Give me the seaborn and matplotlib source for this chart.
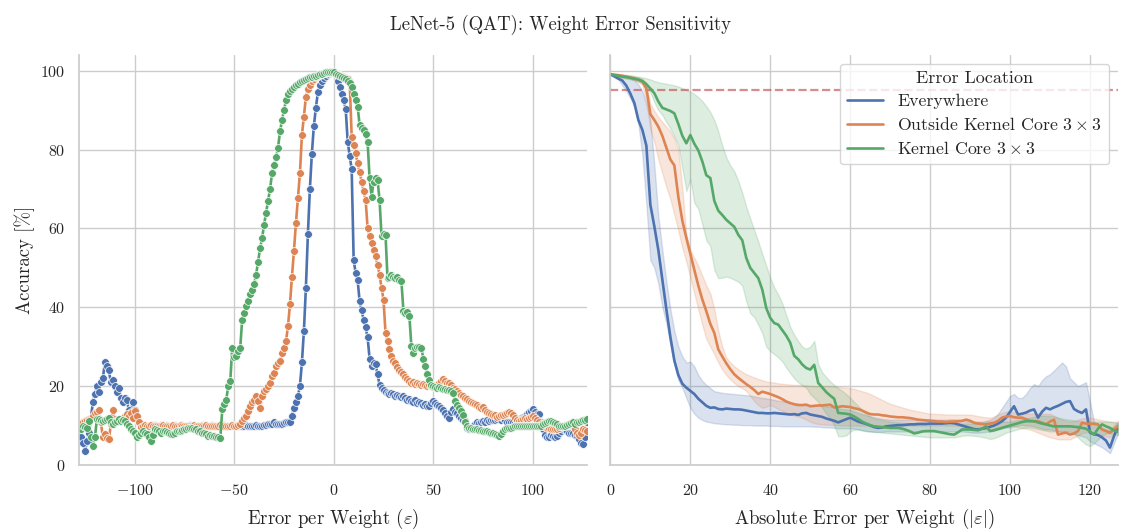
import matplotlib
matplotlib.use("Agg")
import matplotlib.pyplot as plt
import pandas as pd
import seaborn as sns

# ---------------- data ----------------
SERIES = ["Everywhere", r"Outside Kernel Core $3\times3$", r"Kernel Core $3\times3$"]

# left panel: signed error per weight
eps_signed = list(range(-128, 128))

acc_everywhere = [
    9, 7, 5.5, 3.5, 6, 8, 12, 16, 18, 20,
    18.5, 21, 22, 26, 25, 24, 21, 21.5, 20, 18.5,
    19.5, 17, 16, 17, 16.5, 14, 13.5, 16, 14, 12,
    11, 10.5, 10, 9.5, 8, 9.5, 10, 10.2, 10.1, 10,
    10, 10.1, 10, 10, 10.1, 10, 10, 10, 10.1, 10,
    10, 10, 10.1, 10, 10, 10, 10.1, 10, 10, 10,
    10, 10, 10.1, 10, 10, 10, 10, 10.1, 10, 10,
    10, 10, 10, 10.1, 10, 10, 10, 10, 10.1, 10,
    10, 10, 10, 10, 10.1, 10, 10, 10, 10, 10.1,
    10, 10, 10, 10.1, 10.2, 10.3, 10.4, 10.5, 10.8, 10.5,
    10.3, 10.5, 10.4, 10.6, 10.8, 10.8, 11, 12.5, 14.5, 16,
    17.5, 20, 26, 34, 45, 58.5, 70, 79, 86, 90.5,
    94.5, 96.5, 97.5, 98.2, 98.8, 99.2, 99.4, 99.6, 99.6, 99.2,
    97.5, 96, 94, 92.5, 90.3, 82, 78.5, 75, 52, 48.7,
    46.8, 41.5, 39.2, 36.9, 34.9, 32.4, 27, 25.1, 25.9, 25.5,
    23, 20.3, 19.6, 19, 18.6, 18.3, 18, 18.3, 18, 17.6,
    17.8, 17.5, 17.3, 17.5, 17, 16.5, 16.8, 16.2, 16, 16.4,
    15.8, 16, 15.8, 15.2, 15.5, 15, 14.9, 15.8, 16.2, 15.8,
    15.2, 14.9, 14.5, 14, 13.2, 12.5, 12, 13.5, 14.1, 13.5,
    13.2, 12.5, 12, 11.5, 11.1, 9.5, 9.2, 9.5, 10, 10.3,
    10.8, 10.6, 10.9, 11.1, 11, 11.3, 11.2, 11.4, 11.5, 11.3,
    11.6, 11.8, 11.5, 11.8, 11.5, 11, 10.8, 10.8, 11, 10.6,
    10.8, 11.2, 11.8, 12.2, 12.5, 12.9, 13.5, 13.8, 14.1, 13.5,
    13, 12.9, 11, 9, 7.5, 7, 7.2, 7.6, 7.4, 7.2,
    7.4, 8, 8.6, 9.1, 9, 8.6, 8.2, 8.2, 8, 7.6,
    7.4, 6.5, 5.5, 5.3, 7, 10.8,
]

acc_outside = [
    9.5, 9.5, 11, 11.2, 11.4, 11.6, 12, 12.5, 13.3, 13.5,
    14, 10.8, 7, 7.8, 6.8, 6.6, 10.3, 13.9, 11.6, 11.4,
    11.2, 11.6, 12, 12.5, 12.9, 12.4, 13.3, 12, 13.7, 12.5,
    10.8, 9.7, 10, 10.1, 10, 10, 10.1, 10, 10, 10,
    10, 10, 10.1, 10, 10, 10, 10, 10.1, 10, 10,
    10, 10.1, 10, 10, 10, 10, 10, 10, 10.1, 10,
    10, 10, 10, 10, 10.1, 10, 10, 10, 10, 10,
    10, 10.1, 10, 10, 10, 10, 10, 10.1, 10, 10,
    10.2, 10.5, 11.1, 11.8, 12.4, 13.7, 14.9, 16, 16.6, 17.5,
    16.2, 14.5, 17.5, 18.7, 19.2, 20, 20.8, 22.5, 23.4, 25.1,
    25.9, 26.3, 28.4, 29.7, 31.4, 35.2, 40.8, 47.8, 54.3, 61.4,
    67.7, 74, 83.7, 88.4, 93.4, 95.5, 96.4, 97.4, 98, 98.5,
    98.8, 99, 99.3, 99.4, 99.5, 99.6, 99.7, 99.7, 99.6, 99.5,
    99.3, 99, 98.8, 98.5, 98.2, 97.8, 97.2, 83.3, 81.2, 79.1,
    76.5, 74.4, 71.9, 69.4, 67.3, 60.1, 58, 56.3, 54.6, 52.9,
    50.8, 48.3, 45, 41.9, 33.5, 31.4, 29.5, 27.6, 26.5, 25.9,
    24.8, 24.2, 23.5, 23, 22.2, 21.7, 21.2, 20.8, 21, 20.6,
    20.8, 20.5, 20.2, 20.6, 20.4, 20, 20.3, 20, 19.8, 20.2,
    20.4, 20.8, 21.3, 21.7, 21.2, 20.8, 20.8, 20.2, 19.6, 19.2,
    18.7, 18.2, 17.8, 17.5, 17, 16.8, 16.3, 16, 15.7, 15.4,
    15.2, 14.8, 14.5, 14.6, 14, 13.5, 13.2, 13, 12.8, 12.6,
    12.2, 12.5, 12.8, 12.6, 12.9, 13.2, 13.4, 13.1, 12.6, 12,
    11.5, 11.2, 11.3, 11.6, 11.8, 11.6, 12, 12.2, 12.4, 12,
    11.5, 10.8, 10.3, 10, 9.8, 9.5, 9.4, 9.2, 9, 9.2,
    9.1, 9.4, 9.8, 9.9, 10.1, 10.2, 10.3, 10.3, 9.8, 9,
    8.2, 7.6, 8, 9.1, 8.8, 8.7,
]

acc_core = [
    9.1, 9.1, 9.9, 9.7, 9.5, 11.2, 7, 4.9, 7, 11.6,
    11.6, 11.4, 11.2, 11.4, 11.6, 11.8, 11, 10.3, 10.8, 11.2,
    11.6, 11.2, 11.4, 11.2, 10.5, 9.8, 9.1, 8.6, 8.2, 7,
    7.5, 8.2, 8.5, 8, 7.8, 7, 6.1, 7.5, 9.1, 8.8,
    8.5, 8.2, 8.5, 8.7, 8.4, 8.2, 7.9, 7.8, 8.1, 8.5,
    8.7, 8.5, 8.9, 9.2, 9.2, 9.4, 9.5, 9.3, 9.1, 9,
    8.7, 8.6, 8.2, 8, 7.8, 7.4, 7.6, 7.3, 7.4, 7.2,
    7.1, 6.9, 14.1, 15.4, 16.6, 20, 21.3, 29.7, 27.3, 27.6,
    28.9, 29.7, 36.9, 38.6, 40.3, 41.5, 43.4, 44.5, 45.9, 48.3,
    51.6, 55, 57.6, 61, 64, 67, 70, 74, 76, 78,
    80.5, 84.6, 87.5, 90, 92.5, 94, 94.8, 95.4, 95.9, 96.3,
    96.7, 97.1, 97.4, 97.7, 98, 98.1, 98.3, 98.5, 98.7, 98.8,
    98.9, 99.1, 99.3, 99.4, 99.6, 99.6, 99.7, 99.8, 99.8, 99.3,
    99, 98.8, 98.5, 98.1, 97.8, 97.4, 96.8, 95.9, 94, 92.6,
    90.9, 86.2, 85.4, 85, 83.9, 81.9, 72.7, 68.1, 71.9, 72.7,
    72.2, 67.3, 58, 58.6, 58.4, 47.4, 47.8, 48.2, 47.6, 47.4,
    47.7, 47, 46.6, 39, 38.6, 38.8, 37.7, 30.1, 28.4, 29.7,
    30, 29.8, 29.7, 27, 25.1, 23, 21.5, 20.4, 20, 19.8,
    19.6, 19.8, 19.4, 19.3, 19.2, 19, 18.9, 18.7, 18.2, 16.2,
    15.2, 14.5, 13.7, 12.8, 11, 9.9, 9.5, 9.3, 9.2, 9.1,
    9.1, 8.9, 8.8, 8.7, 8.7, 8.7, 8.4, 8.2, 8, 7.8,
    7.6, 7.4, 7.8, 8.5, 9, 9.4, 9.5, 9.5, 9.7, 9.8,
    9.9, 9.9, 9.9, 10, 9.8, 9.9, 10, 9.9, 9.8, 9.9,
    10, 9.9, 9.9, 10.3, 10.6, 10.9, 11.1, 11.2, 11, 10.6,
    10.3, 10, 9.9, 9.9, 10, 10.2, 10.4, 10.6, 10.8, 10.5,
    10.8, 11, 11.2, 11.3, 11.5, 11.6,
]

# right panel: absolute error per weight (central value and band limits)
eps_abs = list(range(0, 128))

mid_everywhere = [
    99.1, 98.6, 98, 97.5, 96.2, 94.2, 91.8, 87.5, 85, 81,
    66, 60.5, 54.5, 47, 39.5, 32.5, 26.5, 22.8, 20.6, 19.6,
    18.8, 18, 16.8, 15.9, 15, 14.5, 14.6, 14.2, 14.1, 14.3,
    14.2, 14.1, 14.1, 14, 13.8, 13.6, 13.4, 13.2, 13.2, 13.1,
    13.1, 13.2, 13.1, 13, 12.9, 12.8, 12.9, 12.7, 13.1, 13.2,
    12.8, 12.6, 12.4, 12.2, 11.8, 11.5, 11.2, 10.8, 11.2, 11.6,
    12, 11.5, 11, 10.7, 10.4, 10, 9.6, 9.4, 9.5, 9.8,
    9.9, 10, 10.1, 10.1, 10.2, 10.3, 10.3, 10.4, 10.4, 10.4,
    10.5, 10.5, 10.5, 10.5, 10.6, 10.7, 10.6, 10.3, 10, 9.7,
    9.4, 9.1, 9, 9.2, 9.4, 9.7, 10, 10.5, 11.1, 12,
    13.5, 14.9, 12.8, 13, 13.3, 13.8, 14.1, 12, 13.5, 14.5,
    14.1, 14.6, 15, 15.5, 16, 16.2, 14.2, 13.6, 13.2, 14.1,
    8.2, 7.8, 7.6, 7, 6.2, 4.4, 7.3, 9.8,
]
lo_everywhere = [
    99, 98.3, 97.8, 96.3, 94.8, 93, 90.8, 86.5, 78.6, 66,
    52, 50, 46, 40, 36, 30.5, 25.5, 21.5, 19.6, 17,
    14.5, 13, 12, 11.4, 11, 10.8, 10.6, 10.5, 10.4, 10.3,
    10.3, 10.2, 10.2, 10.1, 10.1, 10.1, 10, 10, 10, 10,
    9.9, 9.9, 9.9, 9.8, 9.8, 9.8, 9.8, 9.8, 9.8, 9.8,
    9.8, 9.7, 9.7, 9.6, 9.5, 9.5, 9.4, 9.3, 9.3, 9.3,
    9.3, 9.2, 9, 8.8, 8.6, 8.5, 8.4, 8.4, 8.4, 8.5,
    8.5, 8.5, 8.5, 8.5, 8.5, 8.5, 8.5, 8.5, 8.5, 8.5,
    8.5, 8.5, 8.5, 8.5, 8.5, 8.5, 8.5, 8.5, 8.5, 8.4,
    8.3, 8.2, 8.2, 8.3, 8.4, 8.5, 8.7, 9, 9.3, 9.5,
    9.5, 9.8, 10, 10.2, 10, 10, 9.8, 9.5, 9.2, 9,
    9, 8.8, 8.6, 8.4, 8.2, 8, 7.8, 7.6, 7.3, 7,
    6, 5.5, 5, 4.5, 3.8, 3, 5.5, 8,
]
hi_everywhere = [
    99.2, 99.1, 99.1, 99, 98.7, 98.2, 97.6, 96.5, 94.8, 91.5,
    87.5, 76, 63, 54.5, 46.5, 39.5, 34, 30, 27.5, 26,
    26.2, 25, 22.8, 21.3, 20.3, 19.5, 18.7, 18.5, 18.3, 18.2,
    18.1, 18, 17.9, 17.8, 17.7, 17.6, 17.4, 17.2, 17, 16.9,
    16.7, 16.5, 16.3, 16.2, 16, 15.9, 15.7, 15.5, 15.3, 15.2,
    15.2, 15.1, 15, 15, 14.9, 14.8, 14.6, 14.4, 14.2, 14.1,
    14, 13.6, 13.2, 12.9, 12.6, 12.4, 12.1, 11.9, 11.7, 11.6,
    11.5, 11.5, 11.5, 11.5, 11.5, 11.6, 11.6, 11.6, 11.6, 11.6,
    11.6, 11.6, 11.5, 11.5, 11.5, 11.6, 11.6, 11.5, 11.3, 11.1,
    11, 11, 11, 11, 11.2, 11.5, 12, 13, 14.5, 16,
    17.5, 18, 17, 17, 18, 19.5, 20.5, 20, 21.5, 22.5,
    23, 24, 25, 26, 25, 22, 21, 20, 20.5, 21,
    16, 11, 10, 9.5, 9, 9, 10, 11,
]

mid_outside = [
    99.1, 99, 98.9, 98.7, 98.5, 98.3, 98, 97.7, 97.2, 95.5,
    89, 87.5, 85.8, 83.5, 80.5, 77.5, 76, 68, 62, 57.6,
    53.5, 49.5, 45.5, 42, 39, 35.8, 33.5, 29.3, 27.5, 25.8,
    24.3, 23, 22.1, 21.3, 20.5, 19.8, 19, 18, 18.6, 18.3,
    18, 17.6, 17.2, 16.7, 16.1, 15.7, 15.4, 15.2, 15.2, 15.3,
    14.9, 15, 15.1, 15.1, 15.2, 15.3, 14.6, 14.7, 14.9, 14.8,
    14.7, 14.4, 14.2, 13.8, 13.3, 12.9, 12.8, 12.8, 12.6, 12.5,
    12.3, 12.2, 12.1, 12.1, 12, 11.9, 11.7, 11.5, 11.4, 11.3,
    11.2, 11.1, 11, 11, 10.9, 11, 11, 11.1, 11.2, 11.5,
    11.2, 10.7, 10.5, 10.4, 10.3, 10.5, 10.7, 11.2, 12, 12.3,
    12.4, 12.1, 12, 12, 11.6, 11.2, 11.1, 11.1, 10.7, 10.3,
    11, 11.5, 7.7, 8, 8.2, 7.7, 8, 8.6, 10.7, 10.5,
    10.5, 10.4, 10.3, 9, 8.6, 8.2, 9, 9.8,
]
lo_outside = [
    99, 98.8, 98.6, 98.4, 98.2, 98, 97.6, 97.1, 96.5, 92,
    85, 82, 77.5, 74, 70.5, 67.5, 63.5, 59.5, 55, 51.6,
    47.5, 43.5, 39.5, 35.5, 32, 30, 28.1, 26, 24.2, 22.8,
    21.7, 20.8, 20, 19.5, 18.8, 17.5, 16.2, 15.2, 14.5, 14.8,
    15.2, 14.8, 14.2, 13.7, 13.2, 12.8, 12.5, 12.3, 12, 11.5,
    11, 10.6, 10.4, 10.3, 10.2, 10.2, 10.1, 10.1, 10, 10,
    10, 10, 10, 10, 10, 10, 10, 10, 10, 10,
    10, 10, 10, 10, 10, 10, 10, 10, 10, 10,
    10, 10, 10, 10, 10, 10, 10, 9.9, 9.8, 9.6,
    9.5, 9.4, 9.2, 9.1, 9, 9, 9.2, 9.5, 9.8, 10,
    10, 9.8, 9.6, 9.4, 9.2, 9, 8.6, 8.2, 7.8, 7.4,
    7, 6.8, 6.5, 6.5, 6.5, 6.5, 7, 7.5, 8, 8.3,
    8.5, 8.2, 7.8, 7.5, 7.2, 7, 7.8, 8.5,
]
hi_outside = [
    99.2, 99.2, 99.1, 99.1, 99, 98.9, 98.7, 98.4, 98, 96.8,
    91.5, 89.8, 88.2, 87, 85.8, 84.6, 82.8, 80, 70, 58.5,
    54.5, 52.5, 50.5, 48, 45.5, 43.5, 39.5, 34, 30, 27.2,
    26, 25, 24.3, 23.6, 23, 22.6, 22.2, 21.8, 21.5, 21.2,
    21, 20.9, 20.7, 20.6, 20.5, 20.4, 20.3, 20.3, 20.3, 20.2,
    20.1, 20, 20, 20, 20, 20, 19.9, 19.8, 19.7, 19.6,
    19.5, 19.3, 19, 18.7, 18.4, 18, 17.5, 17, 16.5, 16,
    15.5, 15.2, 14.9, 14.6, 14.3, 14, 13.8, 13.6, 13.4, 13.2,
    13, 13, 12.9, 12.9, 12.8, 12.8, 12.8, 12.8, 12.8, 12.8,
    12.8, 12.6, 12.4, 12.2, 12.1, 12, 12.3, 12.8, 13.2, 13.5,
    13.5, 13.4, 13.3, 13.2, 13.1, 13, 13, 13, 13, 13,
    13, 12.5, 12, 11.5, 11.2, 11, 11.2, 11.5, 11.8, 12,
    12, 11.8, 11.6, 11.4, 11.2, 11, 11, 11,
]

mid_core = [
    99.1, 98.9, 98.7, 98.5, 98.4, 98.2, 98, 97.8, 97.4, 96.6,
    95.5, 94.3, 92.2, 90.6, 90.2, 89.8, 89.2, 86.5, 83.5, 81.6,
    83.7, 81.5, 79.8, 77, 73.5, 72.8, 67, 64.5, 63.4, 62.2,
    61.3, 60.4, 58.4, 57, 52.5, 50, 48.7, 47.4, 44.5, 39.8,
    37.3, 36, 35.6, 34.2, 32.8, 31, 27.7, 26.8, 25.5, 24.6,
    24.2, 25.4, 20.8, 19.7, 18.5, 17.6, 16.8, 13.2, 13.1, 13,
    12.8, 12.3, 11.7, 11, 10.5, 10.1, 9.8, 9.7, 9.6, 9.5,
    9.4, 9.4, 9.4, 9.2, 8.9, 8.5, 8, 8.2, 8.5, 8.6,
    8.6, 8.6, 8.4, 8.2, 8, 7.8, 7.7, 8.3, 9, 9,
    9, 8.9, 8.8, 9.2, 9.8, 8.6, 8.8, 9.1, 9.4, 9.7,
    10, 10.3, 10.6, 10.9, 11.1, 11.1, 11.1, 10.8, 10.5, 10.3,
    10, 9.8, 9.8, 9.8, 9.8, 9.8, 9.7, 9.6, 9.4, 9.2,
    8.5, 7.7, 9.2, 10.3, 9.8, 9.4, 8.8, 8.4,
]
lo_core = [
    99, 98.6, 98.4, 98.2, 98, 97.8, 97.6, 97.3, 96.9, 96.1,
    94.5, 92, 90, 88.8, 87, 85.4, 83.3, 81.2, 75.3, 69.5,
    72.5, 66.5, 65, 61, 57, 55.5, 49.5, 47.4, 47.5, 47.8,
    47.5, 47, 46.5, 45.5, 41.5, 38.5, 37.5, 35.5, 33.5, 30,
    28.9, 28.1, 27.3, 26.3, 24.7, 23.3, 22, 21, 20.2, 19.6,
    18, 17, 16, 14.5, 13, 12, 10, 7.3, 7.3, 7.5,
    8.5, 9, 9, 8.8, 8.6, 8.5, 8.4, 8.3, 8.2, 8.1,
    8, 7.9, 7.8, 7.7, 7.6, 7.5, 7.4, 7.3, 7.2, 7.1,
    7, 7, 7, 7, 7, 7, 7, 7.2, 7.4, 7.5,
    7.5, 7.4, 7.3, 7.1, 6.9, 6.6, 6.8, 7.2, 7.7, 8.2,
    8.5, 8.8, 9.1, 9.3, 9.5, 9.5, 9.3, 9.1, 8.9, 8.7,
    8.5, 8.5, 8.5, 8.5, 8.5, 8.5, 8, 7, 6, 5.2,
    4.8, 5.5, 6.5, 7.5, 8, 8, 7.8, 7.5,
]
hi_core = [
    99.2, 99.1, 99, 98.9, 98.8, 98.7, 98.6, 98.5, 98.3, 98.1,
    97.8, 97.4, 97.1, 96.9, 96.7, 96.5, 96.3, 96, 95.6, 95.2,
    94.7, 94.1, 93.3, 92.3, 91, 89.5, 87.5, 84.6, 81, 78,
    76, 74.5, 72, 69, 65.5, 62.5, 59.5, 56.7, 53.5, 50.5,
    47.5, 45, 43.2, 41, 38, 35, 33, 31.4, 30, 29.5,
    30, 31.5, 25.5, 23.5, 22.3, 21.2, 20.3, 19.5, 18.8, 18,
    17, 16, 15, 14, 13, 12.2, 11.8, 11.6, 11.4, 11.2,
    11, 10.9, 10.8, 10.7, 10.6, 10.5, 10.5, 10.5, 10.5, 10.5,
    10.5, 10.5, 10.5, 10.5, 10.5, 10.5, 10.5, 10.5, 10.5, 10.5,
    10.5, 10.5, 10.6, 10.7, 10.9, 11, 11, 11, 11, 11,
    11, 11.2, 11.5, 11.7, 11.9, 12, 12.2, 12.4, 12.5, 12.5,
    12.5, 12.3, 12, 11.8, 11.6, 11.5, 11.3, 11.2, 11.1, 11,
    11, 11, 11, 11, 11, 11, 10.8, 10.5,
]

THRESHOLD = 95

# ---------------- frames ----------------
left_df = pd.DataFrame({
    "eps": eps_signed * 3,
    "acc": acc_everywhere + acc_outside + acc_core,
    "loc": [SERIES[0]] * len(eps_signed) + [SERIES[1]] * len(eps_signed)
           + [SERIES[2]] * len(eps_signed),
})

parts = []
for name, lo, mid, hi in zip(
        SERIES,
        [lo_everywhere, lo_outside, lo_core],
        [mid_everywhere, mid_outside, mid_core],
        [hi_everywhere, hi_outside, hi_core]):
    for arr in (lo, mid, hi):
        parts.append(pd.DataFrame({"eps": eps_abs, "acc": arr, "loc": name}))
right_df = pd.concat(parts, ignore_index=True)

# ---------------- style ----------------
sns.set_theme(style="whitegrid", palette="deep")
plt.rcParams.update({
    "font.family": "serif",
    "font.serif": ["cmr10"],
    "mathtext.fontset": "cm",
    "axes.formatter.use_mathtext": True,
    "axes.unicode_minus": True,
})
palette = sns.color_palette("deep", 3)

fig, (axl, axr) = plt.subplots(1, 2, figsize=(11.22, 5.32), dpi=100, sharey=True)
fig.subplots_adjust(left=0.0704, right=0.9964, top=0.8966, bottom=0.126, wspace=0.047)

sns.lineplot(data=left_df, x="eps", y="acc", hue="loc", hue_order=SERIES,
             palette=palette, marker="o", markersize=5.6, linewidth=1.9,
             markeredgewidth=0.5, errorbar=None, legend=False, ax=axl)

sns.lineplot(data=right_df, x="eps", y="acc", hue="loc", hue_order=SERIES,
             palette=palette, estimator="median", errorbar=("pi", 100),
             linewidth=1.9, ax=axr)
axr.axhline(THRESHOLD, color="#C44E52", ls="--", lw=1.6, alpha=0.65, zorder=1)

axl.set_xlim(-128, 127)
axr.set_xlim(0, 127)
axl.set_ylim(0, 104)
axl.set_xticks([-100, -50, 0, 50, 100])
axr.set_xticks([0, 20, 40, 60, 80, 100, 120])
axl.set_yticks([0, 20, 40, 60, 80, 100])

axl.set_xlabel(r"Error per Weight ($\varepsilon$)", fontsize=13.5, labelpad=6)
axr.set_xlabel(r"Absolute Error per Weight ($|\varepsilon|$)", fontsize=13.5, labelpad=6)
axl.set_ylabel("Accuracy [%]", fontsize=13.5)
axr.set_ylabel("")
for ax in (axl, axr):
    ax.tick_params(labelsize=11.5)
    ax.tick_params(axis="x", pad=7)

sns.move_legend(axr, "upper right", title="Error Location",
                fontsize=12.8, title_fontsize=13, labelspacing=0.4)
sns.despine(fig=fig)

fig.suptitle("LeNet-5 (QAT): Weight Error Sensitivity", y=0.972, fontsize=13.5)

fig.savefig("out.png", dpi=100)
